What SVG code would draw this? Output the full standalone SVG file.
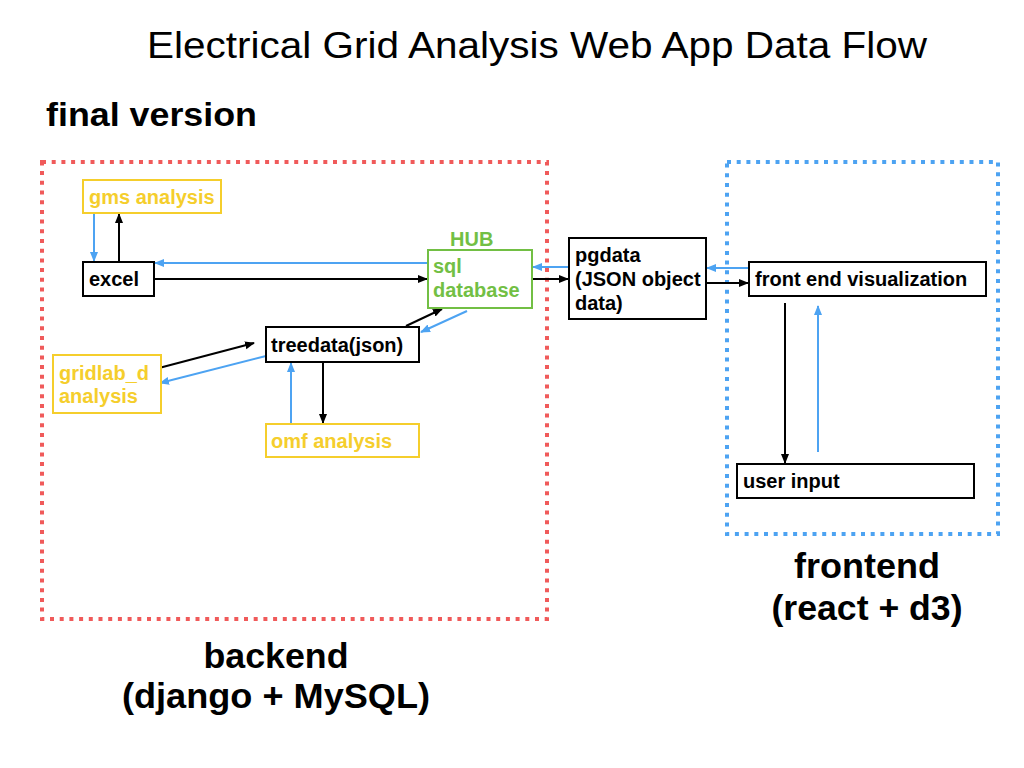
<svg xmlns="http://www.w3.org/2000/svg" width="1024" height="768" viewBox="0 0 1024 768">
<defs>
<marker id="ab" viewBox="0 0 10 10" refX="9" refY="5" markerWidth="5" markerHeight="5" orient="auto" markerUnits="strokeWidth"><path d="M0,1 L10,5 L0,9 z" fill="#000"/></marker>
<marker id="au" viewBox="0 0 10 10" refX="9" refY="5" markerWidth="5" markerHeight="5" orient="auto" markerUnits="strokeWidth"><path d="M0,1 L10,5 L0,9 z" fill="#4DA3F2"/></marker>
<style>
text{font-family:"Liberation Sans",Arial,sans-serif;}
.t{font-size:20px;font-weight:bold;fill:#000;}
.ty{font-size:20px;font-weight:bold;fill:#F5CE2C;}
.tg{font-size:20px;font-weight:bold;fill:#72BF44;}
.big{font-size:35px;font-weight:bold;fill:#000;}
.nb{fill:#fff;stroke:#000;stroke-width:2;}
.ny{fill:#fff;stroke:#F5CE2C;stroke-width:2;}
.ng{fill:#fff;stroke:#72BF44;stroke-width:2;}
.cb{stroke:#000;stroke-width:2;fill:none;marker-end:url(#ab);}
.cu{stroke:#4DA3F2;stroke-width:2;fill:none;marker-end:url(#au);}
</style>
</defs>
<rect width="1024" height="768" fill="#fff"/>
<text x="537" y="58" text-anchor="middle" style="font-size:36px;font-weight:300" textLength="780" lengthAdjust="spacingAndGlyphs" fill="#000">Electrical Grid Analysis Web App Data Flow</text>
<text x="46" y="126" class="big" style="font-size:33px" textLength="211" lengthAdjust="spacingAndGlyphs">final version</text>
<rect x="42" y="162" width="505" height="457" fill="none" stroke="#F05A5A" stroke-width="4" stroke-dasharray="4 5.7"/>
<rect x="727" y="162" width="271" height="372" fill="none" stroke="#4DA3F2" stroke-width="4" stroke-dasharray="4 5.7"/>
<text x="276" y="668" text-anchor="middle" class="big" textLength="145" lengthAdjust="spacingAndGlyphs">backend</text>
<text x="276" y="708" text-anchor="middle" class="big" textLength="308" lengthAdjust="spacingAndGlyphs">(django + MySQL)</text>
<text x="867" y="578" text-anchor="middle" class="big" textLength="146" lengthAdjust="spacingAndGlyphs">frontend</text>
<text x="867" y="620" text-anchor="middle" class="big" textLength="191" lengthAdjust="spacingAndGlyphs">(react + d3)</text>

<g id="connectors">
<line class="cu" x1="94" y1="213" x2="94" y2="261"/>
<line class="cb" x1="119" y1="262" x2="119" y2="214"/>
<line class="cu" x1="428" y1="263" x2="155" y2="263"/>
<line class="cb" x1="154" y1="279" x2="427" y2="279"/>
<line class="cb" x1="532" y1="279" x2="568" y2="279"/>
<line class="cu" x1="569" y1="267" x2="533" y2="267"/>
<line class="cu" x1="749" y1="268" x2="707" y2="268"/>
<line class="cb" x1="706" y1="283" x2="748" y2="283"/>
<line class="cb" x1="785" y1="303" x2="785" y2="463"/>
<line class="cu" x1="818" y1="452" x2="818" y2="306"/>
<line class="cb" x1="406" y1="326" x2="442" y2="309"/>
<line class="cu" x1="467" y1="311" x2="421" y2="332"/>
<line class="cb" x1="159" y1="368" x2="254" y2="343"/>
<line class="cu" x1="266" y1="356" x2="160" y2="383"/>
<line class="cb" x1="323" y1="362" x2="323" y2="423"/>
<line class="cu" x1="291" y1="424" x2="291" y2="363"/>
</g>

<g id="gms"><rect class="ny" x="83" y="180" width="138" height="33"/><text class="ty" x="89" y="204">gms analysis</text></g>
<g id="excel"><rect class="nb" x="83" y="262" width="71" height="34"/><text class="t" x="89" y="286">excel</text></g>
<g id="sql"><text class="tg" x="450" y="246">HUB</text><rect class="ng" x="428" y="250" width="104" height="58"/><text class="tg" x="433" y="273">sql</text><text class="tg" x="433" y="297">database</text></g>
<g id="pgdata"><rect class="nb" x="569" y="238" width="137" height="81"/><text class="t" x="575" y="262">pgdata</text><text class="t" x="575" y="286">(JSON object</text><text class="t" x="575" y="310">data)</text></g>
<g id="frontvis"><rect class="nb" x="749" y="262" width="237" height="34"/><text class="t" x="755" y="286">front end visualization</text></g>
<g id="userinput"><rect class="nb" x="737" y="464" width="237" height="34"/><text class="t" x="743" y="488">user input</text></g>
<g id="treedata"><rect class="nb" x="266" y="327" width="153" height="35"/><text class="t" x="271" y="352">treedata(json)</text></g>
<g id="omf"><rect class="ny" x="266" y="424" width="153" height="33"/><text class="ty" x="271" y="448">omf analysis</text></g>
<g id="gridlab"><rect class="ny" x="53" y="355" width="108" height="58"/><text class="ty" x="59" y="380">gridlab_d</text><text class="ty" x="59" y="403">analysis</text></g>
</svg>
